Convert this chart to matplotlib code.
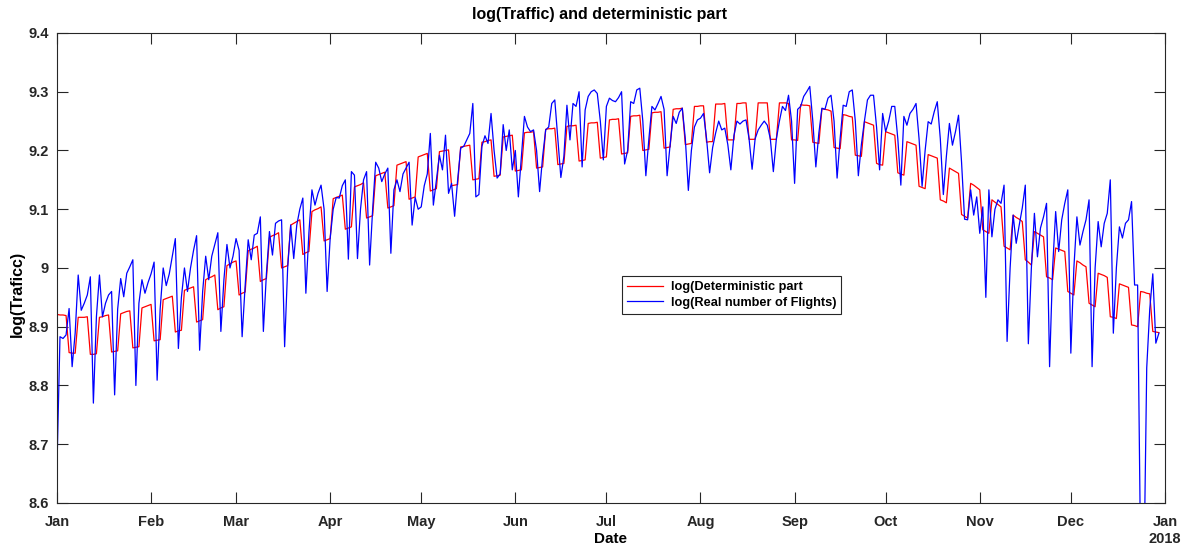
import numpy as np
import pandas as pd
import matplotlib
matplotlib.use("Agg")
import matplotlib.pyplot as plt
import matplotlib.dates as mdates
import matplotlib.transforms as mtransforms

start_day = "2017-01-01"
month_labels = ['Jan', 'Feb', 'Mar', 'Apr', 'May', 'Jun', 'Jul',
                'Aug', 'Sep', 'Oct', 'Nov', 'Dec', 'Jan']
y_ticks = [8.6, 8.7, 8.8, 8.9, 9.0, 9.1, 9.2, 9.3, 9.4]

# deterministic part, one row per week (starts on Jan 1)
log_det = [
    8.921, 8.920, 8.920, 8.919, 8.856, 8.855, 8.855,
    8.916, 8.916, 8.916, 8.917, 8.853, 8.853, 8.854,
    8.916, 8.917, 8.919, 8.920, 8.857, 8.858, 8.859,
    8.922, 8.924, 8.926, 8.927, 8.864, 8.865, 8.866,
    8.932, 8.934, 8.936, 8.938, 8.876, 8.877, 8.878,
    8.946, 8.948, 8.950, 8.952, 8.891, 8.893, 8.894,
    8.962, 8.964, 8.966, 8.968, 8.908, 8.910, 8.912,
    8.980, 8.983, 8.985, 8.988, 8.929, 8.932, 8.934,
    9.004, 9.007, 9.010, 9.012, 8.954, 8.957, 8.959,
    9.029, 9.032, 9.034, 9.037, 8.977, 8.980, 8.982,
    9.052, 9.055, 9.057, 9.060, 9.000, 9.002, 9.004,
    9.073, 9.076, 9.079, 9.082, 9.023, 9.026, 9.028,
    9.096, 9.099, 9.101, 9.104, 9.046, 9.048, 9.050,
    9.118, 9.120, 9.122, 9.124, 9.066, 9.068, 9.070,
    9.138, 9.140, 9.142, 9.145, 9.085, 9.087, 9.089,
    9.157, 9.159, 9.161, 9.163, 9.102, 9.104, 9.106,
    9.175, 9.177, 9.179, 9.181, 9.117, 9.119, 9.121,
    9.189, 9.191, 9.193, 9.195, 9.131, 9.133, 9.135,
    9.198, 9.199, 9.200, 9.201, 9.140, 9.141, 9.142,
    9.206, 9.207, 9.208, 9.209, 9.150, 9.151, 9.152,
    9.214, 9.215, 9.217, 9.218, 9.156, 9.157, 9.158,
    9.223, 9.224, 9.225, 9.226, 9.165, 9.166, 9.167,
    9.230, 9.231, 9.231, 9.232, 9.170, 9.171, 9.172,
    9.236, 9.237, 9.237, 9.238, 9.176, 9.177, 9.178,
    9.241, 9.242, 9.242, 9.243, 9.182, 9.183, 9.184,
    9.246, 9.247, 9.247, 9.248, 9.187, 9.188, 9.189,
    9.252, 9.253, 9.253, 9.254, 9.194, 9.195, 9.196,
    9.258, 9.259, 9.259, 9.260, 9.200, 9.201, 9.202,
    9.264, 9.265, 9.265, 9.266, 9.204, 9.205, 9.206,
    9.270, 9.271, 9.271, 9.272, 9.210, 9.211, 9.212,
    9.275, 9.275, 9.276, 9.276, 9.214, 9.215, 9.215,
    9.279, 9.279, 9.279, 9.280, 9.218, 9.218, 9.218,
    9.280, 9.280, 9.281, 9.281, 9.219, 9.219, 9.219,
    9.281, 9.281, 9.281, 9.281, 9.219, 9.219, 9.219,
    9.281, 9.281, 9.281, 9.280, 9.218, 9.218, 9.217,
    9.278, 9.277, 9.277, 9.276, 9.214, 9.213, 9.212,
    9.271, 9.270, 9.269, 9.267, 9.205, 9.204, 9.203,
    9.261, 9.260, 9.258, 9.257, 9.192, 9.191, 9.190,
    9.249, 9.247, 9.245, 9.243, 9.178, 9.176, 9.175,
    9.232, 9.230, 9.228, 9.226, 9.162, 9.160, 9.158,
    9.215, 9.213, 9.211, 9.209, 9.139, 9.137, 9.135,
    9.193, 9.191, 9.189, 9.187, 9.116, 9.114, 9.111,
    9.170, 9.167, 9.164, 9.161, 9.091, 9.088, 9.085,
    9.144, 9.141, 9.137, 9.133, 9.065, 9.062, 9.059,
    9.116, 9.112, 9.108, 9.104, 9.037, 9.034, 9.031,
    9.090, 9.086, 9.083, 9.079, 9.014, 9.010, 9.005,
    9.062, 9.059, 9.056, 9.053, 8.985, 8.983, 8.980,
    9.034, 9.032, 9.030, 9.028, 8.960, 8.957, 8.954,
    9.012, 9.009, 9.005, 9.002, 8.940, 8.937, 8.934,
    8.991, 8.989, 8.987, 8.984, 8.917, 8.916, 8.914,
    8.973, 8.971, 8.969, 8.967, 8.903, 8.902, 8.900,
    8.960, 8.959, 8.957, 8.956, 8.892, 8.891, 8.890,
]

# real number of flights (log), same weekly rows
log_real = [
    8.660, 8.883, 8.880, 8.886, 8.931, 8.832, 8.889,
    8.988, 8.928, 8.940, 8.954, 8.985, 8.770, 8.917,
    8.988, 8.917, 8.940, 8.954, 8.960, 8.784, 8.930,
    8.982, 8.951, 8.991, 9.002, 9.014, 8.800, 8.940,
    8.980, 8.957, 8.975, 8.990, 9.010, 8.809, 8.930,
    9.000, 8.970, 8.990, 9.020, 9.050, 8.863, 8.950,
    9.000, 8.960, 9.000, 9.030, 9.055, 8.860, 8.960,
    9.020, 8.980, 9.020, 9.040, 9.060, 8.892, 8.980,
    9.040, 9.000, 9.020, 9.050, 9.030, 8.883, 8.970,
    9.048, 9.014, 9.056, 9.059, 9.087, 8.892, 8.990,
    9.062, 9.022, 9.076, 9.080, 9.082, 8.866, 9.000,
    9.073, 9.016, 9.073, 9.100, 9.119, 8.957, 9.060,
    9.133, 9.107, 9.127, 9.141, 9.100, 8.960, 9.050,
    9.100, 9.120, 9.119, 9.140, 9.150, 9.015, 9.164,
    9.158, 9.016, 9.100, 9.150, 9.164, 9.005, 9.100,
    9.180, 9.170, 9.147, 9.160, 9.170, 9.025, 9.133,
    9.150, 9.130, 9.160, 9.170, 9.180, 9.073, 9.120,
    9.100, 9.104, 9.140, 9.160, 9.229, 9.107, 9.150,
    9.192, 9.167, 9.226, 9.127, 9.144, 9.088, 9.150,
    9.204, 9.207, 9.218, 9.229, 9.280, 9.121, 9.125,
    9.207, 9.225, 9.212, 9.263, 9.200, 9.153, 9.160,
    9.244, 9.200, 9.235, 9.167, 9.200, 9.121, 9.190,
    9.258, 9.240, 9.232, 9.235, 9.200, 9.130, 9.190,
    9.235, 9.240, 9.280, 9.286, 9.220, 9.154, 9.190,
    9.277, 9.218, 9.280, 9.275, 9.300, 9.172, 9.269,
    9.292, 9.300, 9.303, 9.297, 9.250, 9.184, 9.275,
    9.289, 9.285, 9.283, 9.290, 9.300, 9.177, 9.200,
    9.283, 9.280, 9.303, 9.306, 9.250, 9.157, 9.220,
    9.275, 9.269, 9.280, 9.292, 9.270, 9.157, 9.210,
    9.258, 9.246, 9.265, 9.272, 9.220, 9.132, 9.200,
    9.240, 9.252, 9.255, 9.263, 9.220, 9.162, 9.205,
    9.230, 9.250, 9.235, 9.238, 9.210, 9.167, 9.225,
    9.250, 9.245, 9.250, 9.252, 9.220, 9.168, 9.220,
    9.235, 9.243, 9.250, 9.243, 9.220, 9.164, 9.220,
    9.250, 9.275, 9.268, 9.294, 9.250, 9.144, 9.270,
    9.275, 9.292, 9.300, 9.309, 9.250, 9.172, 9.230,
    9.272, 9.270, 9.289, 9.294, 9.250, 9.153, 9.220,
    9.277, 9.275, 9.300, 9.303, 9.250, 9.157, 9.210,
    9.250, 9.286, 9.294, 9.294, 9.240, 9.167, 9.263,
    9.232, 9.250, 9.275, 9.275, 9.220, 9.141, 9.258,
    9.243, 9.263, 9.270, 9.280, 9.220, 9.139, 9.200,
    9.249, 9.245, 9.266, 9.283, 9.220, 9.125, 9.190,
    9.246, 9.209, 9.232, 9.260, 9.180, 9.083, 9.082,
    9.133, 9.090, 9.121, 9.059, 9.104, 8.950, 9.133,
    9.053, 9.100, 9.116, 9.110, 9.141, 8.875, 9.000,
    9.090, 9.042, 9.073, 9.102, 9.141, 8.871, 9.000,
    9.093, 9.019, 9.068, 9.087, 9.110, 8.832, 9.000,
    9.096, 9.028, 9.082, 9.110, 9.133, 8.855, 9.000,
    9.087, 9.039, 9.062, 9.082, 9.116, 8.832, 9.000,
    9.079, 9.036, 9.076, 9.093, 9.150, 8.889, 9.000,
    9.070, 9.051, 9.076, 9.082, 9.113, 8.971, 8.971,
    8.500, 8.450, 8.830, 8.930, 8.990, 8.872, 8.889,
]

plt.rcParams['font.family'] = ['Liberation Sans', 'DejaVu Sans']
plt.rcParams['font.weight'] = 'bold'

dates = pd.date_range(start_day, periods=len(log_real), freq='D')
axis_col = '#262626'

fig = plt.figure(figsize=(11.84, 5.44), dpi=100)
ax = fig.add_axes([0.0481, 0.0754, 0.9358, 0.8640])

ax.plot(dates, log_det, color='#ff0000', linewidth=0.9, label='log(Deterministic part')
ax.plot(dates, log_real, color='#0000ff', linewidth=0.9, label='log(Real number of Flights)')

ax.set_xlim(pd.Timestamp('2017-01-01'), pd.Timestamp('2018-01-01'))
ax.set_ylim(8.6, 9.4)

ax.xaxis.set_major_locator(mdates.MonthLocator())
ax.set_xticks(ax.get_xticks())
ax.set_xticklabels(month_labels)
ax.set_yticks(y_ticks)
ax.set_yticklabels(['%g' % v for v in y_ticks])

ax.tick_params(direction='in', length=8, width=0.8, top=True, right=True,
               colors=axis_col, labelsize=10.5)
ax.tick_params(axis='x', pad=9)
ax.tick_params(axis='y', pad=6)
for sp in ax.spines.values():
    sp.set_color(axis_col)
    sp.set_linewidth(0.8)

# year label under the last tick, like MATLAB datetime axes
trans = mtransforms.blended_transform_factory(ax.transData, ax.transAxes)
ax.text(mdates.date2num(pd.Timestamp('2018-01-01')), -0.062, '2018', transform=trans,
        ha='center', va='top', fontsize=10.5, fontweight='bold', color=axis_col)

ax.set_title('log(Traffic) and deterministic part', fontsize=11.5, fontweight='bold',
             pad=10, x=0.49)
ax.set_xlabel('Date', fontsize=11, fontweight='bold', labelpad=1.5)
ax.set_ylabel('log(Traficc)', fontsize=11.5, fontweight='bold')
ax.yaxis.set_label_coords(-0.029, 0.445)

leg = ax.legend(loc='upper left', bbox_to_anchor=(0.51, 0.483), fontsize=9.2,
                handlelength=2.8, fancybox=False, framealpha=1, borderpad=0.4,
                labelspacing=0.3, handletextpad=0.6, borderaxespad=0)
leg.get_frame().set_edgecolor(axis_col)
leg.get_frame().set_linewidth(0.8)

fig.savefig('out.png', dpi=100)
